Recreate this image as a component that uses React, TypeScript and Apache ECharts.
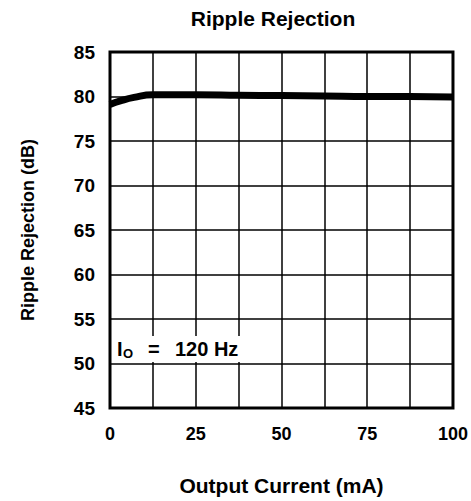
import React, { useEffect, useRef } from "react";
import * as echarts from "echarts";

const currentMA = [0, 3, 7, 12.5, 25, 37.5, 50, 62.5, 75, 87.5, 100];
const rejectionDB = [79.1, 79.5, 79.9, 80.2, 80.2, 80.15, 80.1, 80.05, 80.0, 80.0, 79.95];
const xTickLabels = [0, 25, 50, 75, 100];

const FONT = "Liberation Sans, Arial, sans-serif";

export default function App() {
  const ref = useRef<HTMLDivElement>(null);
  useEffect(() => {
    if (!ref.current) return;
    const chart = echarts.init(ref.current, undefined, { renderer: "svg" });
    chart.setOption({
      animation: false,
      backgroundColor: "#fff",
      title: {
        text: "Ripple Rejection",
        left: 268,
        top: 3,
        textAlign: "center",
        textStyle: { fontFamily: FONT, fontWeight: "bold", fontSize: 21, color: "#000" },
      },
      grid: {
        left: 110,
        right: 16,
        top: 52,
        bottom: 92,
        show: true,
        borderColor: "#000",
        borderWidth: 3,
      },
      xAxis: {
        type: "value",
        min: 0,
        max: 100,
        interval: 12.5,
        name: "Output Current (mA)",
        nameLocation: "middle",
        nameGap: 67,
        nameTextStyle: { fontFamily: FONT, fontWeight: "bold", fontSize: 21, color: "#000" },
        axisLine: { show: false },
        axisTick: { show: false },
        axisLabel: {
          margin: 17,
          fontFamily: FONT,
          fontWeight: "bold",
          fontSize: 18,
          color: "#000",
          formatter: (v: number) => (xTickLabels.includes(v) ? String(v) : ""),
        },
        splitLine: { show: true, lineStyle: { color: "#000", width: 1.5 } },
      },
      yAxis: {
        type: "value",
        min: 45,
        max: 85,
        interval: 5,
        name: "Ripple Rejection (dB)",
        nameLocation: "middle",
        nameGap: 73,
        nameTextStyle: { fontFamily: FONT, fontWeight: "bold", fontSize: 18, color: "#000" },
        axisLine: { show: false },
        axisTick: { show: false },
        axisLabel: {
          margin: 15,
          fontFamily: FONT,
          fontWeight: "bold",
          fontSize: 19,
          color: "#000",
        },
        splitLine: { show: true, lineStyle: { color: "#000", width: 1.5 } },
      },
      series: [
        {
          type: "line",
          data: currentMA.map((x, i) => [x, rejectionDB[i]]),
          showSymbol: false,
          smooth: true,
          lineStyle: { color: "#000", width: 7 },
        },
      ],
      graphic: [
        {
          type: "rect",
          shape: { x: 113, y: 336, width: 132, height: 26 },
          style: { fill: "#fff" },
          z: 10,
        },
        {
          type: "text",
          x: 117,
          y: 349,
          z: 11,
          style: {
            text: "I",
            font: `bold 20px ${FONT}`,
            fill: "#000",
            textVerticalAlign: "middle",
          },
        },
        {
          type: "text",
          x: 123,
          y: 353,
          z: 11,
          style: {
            text: "O",
            font: `bold 13px ${FONT}`,
            fill: "#000",
            textVerticalAlign: "middle",
          },
        },
        {
          type: "text",
          x: 148,
          y: 349,
          z: 11,
          style: {
            text: "=",
            font: `bold 20px ${FONT}`,
            fill: "#000",
            textVerticalAlign: "middle",
          },
        },
        {
          type: "text",
          x: 175,
          y: 349,
          z: 11,
          style: {
            text: "120 Hz",
            font: `bold 20px ${FONT}`,
            fill: "#000",
            textVerticalAlign: "middle",
          },
        },
      ],
    });
    return () => chart.dispose();
  }, []);
  return (
    <div
      ref={ref}
      style={{ position: "fixed", left: 0, top: 0, width: 471, height: 501 }}
    />
  );
}
